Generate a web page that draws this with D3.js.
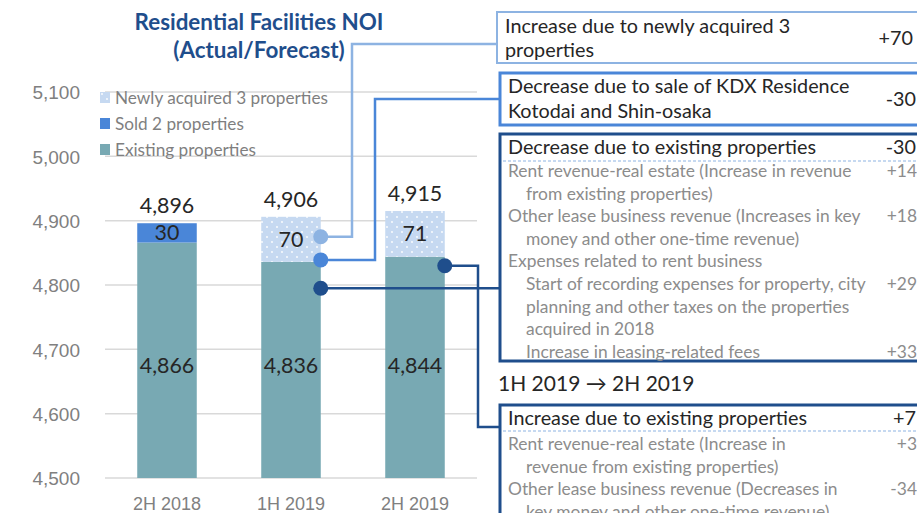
<!DOCTYPE html>
<html>
  <meta charset="utf-8" />
  <style>
    body { margin: 0; background: #fff; }
    svg { display: block; font-family: Lato, "Open Sans", sans-serif; }
  </style>
  <svg width="917" height="513"></svg>
  <script src="https://d3js.org/d3.v7.min.js"></script>
  <script>
    // chart values
    const categories = ["2H 2018", "1H 2019", "2H 2019"];
    const existing = [4866, 4836, 4844];
    const sold = [30, 0, 0];
    const newly = [0, 70, 71];
    const yTicks = [4500, 4600, 4700, 4800, 4900, 5000, 5100];
    const legendItems = ["Newly acquired 3 properties", "Sold 2 properties", "Existing properties"];

    // annotation texts
    const box1Lines = ["Increase due to newly acquired 3", "properties"];
    const box1Value = "+70";
    const box2Lines = ["Decrease due to sale of KDX Residence", "Kotodai and Shin-osaka"];
    const box2Value = "-30";
    const box3Head = ["Decrease due to existing properties", "-30"];
    const box3Rows = [
      ["Rent revenue-real estate (Increase in revenue", "+14", 0],
      ["from existing properties)", "", 1],
      ["Other lease business revenue (Increases in key", "+18", 0],
      ["money and other one-time revenue)", "", 1],
      ["Expenses related to rent business", "", 0],
      ["Start of recording expenses for property, city", "+29", 1],
      ["planning and other taxes on the properties", "", 1],
      ["acquired in 2018", "", 1],
      ["Increase in leasing-related fees", "+33", 1],
    ];
    const periodLabel = "1H 2019 \u2192 2H 2019";
    const box4Head = ["Increase due to existing properties", "+7"];
    const box4Rows = [
      ["Rent revenue-real estate (Increase in", "+3", 0],
      ["revenue from existing properties)", "", 1],
      ["Other lease business revenue (Decreases in", "-34", 0],
      ["key money and other one-time revenue)", "", 1],
    ];
    // connector anchors: category, value on the bar
    const anchors = [
      { cat: "1H 2019", value: 4875, color: "#8db3e2" },
      { cat: "1H 2019", value: 4839, color: "#4a86d8" },
      { cat: "1H 2019", value: 4795, color: "#1f4e8c" },
      { cat: "2H 2019", value: 4830, color: "#1f4e8c" },
    ];

    const colors = { newly: "#c6d9f1", sold: "#4a86d8", existing: "#78a9b3" };
    const svg = d3.select("svg");

    const x = d3.scaleBand().domain(categories).range([105, 477]).paddingInner(0.52).paddingOuter(0.26);
    const y = d3.scaleLinear().domain([4500, 5100]).range([478, 92]);

    // dotted pattern for newly acquired
    const defs = svg.append("defs");
    const pat = defs.append("pattern").attr("id", "dots").attr("patternUnits", "userSpaceOnUse")
      .attr("width", 10).attr("height", 10);
    pat.append("rect").attr("width", 10).attr("height", 10).attr("fill", colors.newly);
    pat.append("circle").attr("cx", 2).attr("cy", 2).attr("r", 0.9).attr("fill", "#fff");
    pat.append("circle").attr("cx", 7).attr("cy", 7).attr("r", 0.9).attr("fill", "#fff");

    // title
    svg.append("text").attr("x", 259).attr("y", 30).attr("text-anchor", "middle")
      .attr("font-size", 22.4).attr("font-weight", "bold").attr("fill", "#1f4e8c")
      .text("Residential Facilities NOI");
    svg.append("text").attr("x", 259).attr("y", 58).attr("text-anchor", "middle")
      .attr("font-size", 22.4).attr("font-weight", "bold").attr("fill", "#1f4e8c")
      .text("(Actual/Forecast)");

    // grid + y axis
    svg.append("g").selectAll("line").data(yTicks).join("line")
      .attr("x1", 105).attr("x2", 477).attr("y1", d => y(d)).attr("y2", d => y(d))
      .attr("stroke", "#d9d9d9").attr("stroke-width", 1.5);

    const yAxis = svg.append("g").attr("transform", "translate(105,0)")
      .call(d3.axisLeft(y).tickValues(yTicks).tickSize(0).tickPadding(25).tickFormat(d3.format(",")));
    yAxis.select(".domain").remove();
    yAxis.selectAll("text").attr("font-size", 19).attr("fill", "#808080").attr("font-family", null).attr("dy", "0.36em");

    const xAxis = svg.append("g").attr("transform", "translate(0,478)")
      .call(d3.axisBottom(x).tickSize(0).tickPadding(19));
    xAxis.select(".domain").remove();
    xAxis.selectAll("text").attr("font-size", 18).attr("fill", "#808080").attr("font-family", null);

    // stacked bars
    const rows = categories.map((c, i) => ({ cat: c, existing: existing[i], sold: sold[i], newly: newly[i] }));
    const stack = d3.stack().keys(["existing", "sold", "newly"])(rows);
    const fills = { existing: colors.existing, sold: colors.sold, newly: "url(#dots)" };

    stack.forEach(layer => {
      svg.append("g").selectAll("rect").data(layer.filter(d => d[1] > d[0])).join("rect")
        .attr("x", d => x(d.data.cat))
        .attr("width", x.bandwidth())
        .attr("y", d => y(d[1]))
        .attr("height", d => y(Math.max(d[0], 4500)) - y(d[1]))
        .attr("fill", fills[layer.key]);
    });

    // segment labels
    const labelSize = 21.4;
    const existCenter = d3.mean(rows, r => (4500 + r.existing) / 2);
    svg.append("g").selectAll("text").data(rows).join("text")
      .attr("x", d => x(d.cat) + x.bandwidth() / 2).attr("y", y(existCenter)).attr("dy", "0.35em")
      .attr("text-anchor", "middle").attr("font-size", labelSize).attr("fill", "#262626")
      .text(d => d3.format(",")(d.existing));
    stack.slice(1).forEach(layer => {
      svg.append("g").selectAll("text").data(layer.filter(d => d[1] > d[0])).join("text")
        .attr("x", d => x(d.data.cat) + x.bandwidth() / 2).attr("y", d => y((d[0] + d[1]) / 2)).attr("dy", "0.35em")
        .attr("text-anchor", "middle").attr("font-size", labelSize).attr("fill", "#262626")
        .text(d => d[1] - d[0]);
    });
    // totals
    svg.append("g").selectAll("text").data(rows).join("text")
      .attr("x", d => x(d.cat) + x.bandwidth() / 2).attr("y", d => y(d.existing + d.sold + d.newly) - 10)
      .attr("text-anchor", "middle").attr("font-size", labelSize).attr("fill", "#262626")
      .text(d => d3.format(",")(d.existing + d.sold + d.newly));

    // legend
    const legFill = [fills.newly, fills.sold, fills.existing];
    const leg = svg.append("g").selectAll("g").data(legendItems).join("g")
      .attr("transform", (d, i) => `translate(100,${92 + i * 26})`);
    leg.append("rect").attr("width", 10).attr("height", 11).attr("fill", (d, i) => legFill[i]);
    leg.append("text").attr("x", 15).attr("y", 12).attr("font-size", 17.2).attr("fill", "#7f7f7f").text(d => d);

    // annotation boxes
    function box(x0, y0, h, stroke, sw) {
      svg.append("rect").attr("x", x0).attr("y", y0).attr("width", 440).attr("height", h)
        .attr("fill", "#fff").attr("stroke", stroke).attr("stroke-width", sw);
    }
    function txt(x0, y0, s, size, fill, anchor) {
      svg.append("text").attr("x", x0).attr("y", y0).attr("font-size", size).attr("fill", fill)
        .attr("text-anchor", anchor || "start").text(s);
    }

    // connectors
    const cx = d => x(d.cat) + x.bandwidth();
    const paths = [
      a => `M${cx(a)},${y(a.value)}H352V44H497`,
      a => `M${cx(a)},${y(a.value)}H375V99H500`,
      a => `M${cx(a)},${y(a.value)}H500`,
      a => `M${cx(a)},${y(a.value)}H478V427H500`,
    ];
    anchors.forEach((a, i) => {
      svg.append("path").attr("d", paths[i](a)).attr("fill", "none").attr("stroke", a.color).attr("stroke-width", 2.5);
    });
    svg.append("g").selectAll("circle").data(anchors).join("circle")
      .attr("cx", cx).attr("cy", d => y(d.value)).attr("r", 7.5).attr("fill", d => d.color);

    const head = 19.8, small = 17.4;
    box(497, 12, 51, "#8db3e2", 2);
    txt(505, 33, box1Lines[0], head, "#262626");
    txt(505, 57, box1Lines[1], head, "#262626");
    txt(913, 45, box1Value, head, "#262626", "end");

    box(500, 73, 52, "#4a86d8", 3);
    txt(508, 93, box2Lines[0], head, "#262626");
    txt(508, 118, box2Lines[1], head, "#262626");
    txt(916, 106, box2Value, head, "#262626", "end");

    box(500, 134, 227, "#1f4e8c", 3);
    txt(508, 154, box3Head[0], head, "#262626");
    txt(916, 154, box3Head[1], head, "#262626", "end");
    svg.append("line").attr("x1", 503).attr("x2", 917).attr("y1", 161).attr("y2", 161)
      .attr("stroke", "#8db3e2").attr("stroke-dasharray", "3,2").attr("stroke-width", 1);
    box3Rows.forEach((r, i) => {
      txt(r[2] ? 526 : 508, 177 + i * 22.6, r[0], small, "#8c8c8c");
      if (r[1]) txt(917, 177 + i * 22.6, r[1], small, "#8c8c8c", "end");
    });

    txt(498, 391, periodLabel, 21, "#262626");

    box(500, 405, 140, "#1f4e8c", 3);
    txt(508, 425, box4Head[0], head, "#262626");
    txt(916, 425, box4Head[1], head, "#262626", "end");
    svg.append("line").attr("x1", 503).attr("x2", 917).attr("y1", 431).attr("y2", 431)
      .attr("stroke", "#8db3e2").attr("stroke-dasharray", "3,2").attr("stroke-width", 1);
    box4Rows.forEach((r, i) => {
      txt(r[2] ? 526 : 508, 450 + i * 22.6, r[0], small, "#8c8c8c");
      if (r[1]) txt(917, 450 + i * 22.6, r[1], small, "#8c8c8c", "end");
    });
  </script>
</html>
